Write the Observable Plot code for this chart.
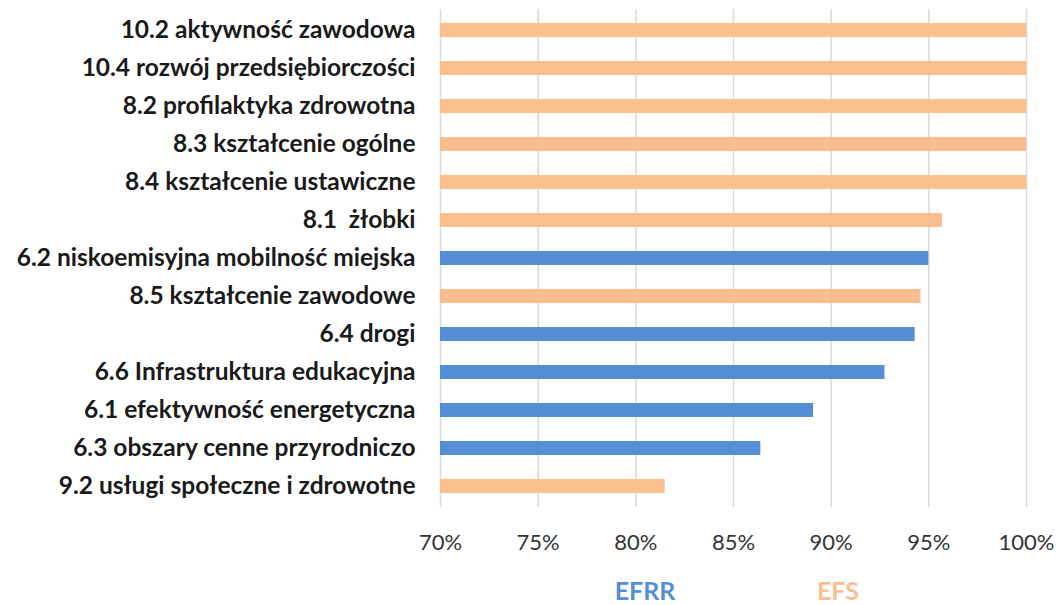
<!DOCTYPE html>
<html>
<head>
<meta charset="utf-8">
<script src="https://cdn.jsdelivr.net/npm/d3@7"></script>
<script src="https://cdn.jsdelivr.net/npm/@observablehq/plot@0.6"></script>
<style>
  html, body { margin: 0; padding: 0; background: #fff; }
  #wrap { position: relative; width: 1061px; height: 605px; overflow: hidden; }
  .leg { position: absolute; top: 578px; line-height: 1; font-family: Lato, "Open Sans", sans-serif; font-weight: bold; font-size: 25px; transform: translateX(-50%); }
  svg text { white-space: pre; }
</style>
</head>
<body>
<div id="wrap"></div>
<script>
const categories = [
  "10.2 aktywność zawodowa",
  "10.4 rozwój przedsiębiorczości",
  "8.2 profilaktyka zdrowotna",
  "8.3 kształcenie ogólne",
  "8.4 kształcenie ustawiczne",
  "8.1  żłobki",
  "6.2 niskoemisyjna mobilność miejska",
  "8.5 kształcenie zawodowe",
  "6.4 drogi",
  "6.6 Infrastruktura edukacyjna",
  "6.1 efektywność energetyczna",
  "6.3 obszary cenne przyrodniczo",
  "9.2 usługi społeczne i zdrowotne"
];
const values = [1.0, 1.0, 1.0, 1.0, 1.0, 0.957, 0.950, 0.946, 0.943, 0.9275, 0.891, 0.864, 0.815];
const funds = ["EFS","EFS","EFS","EFS","EFS","EFS","EFRR","EFS","EFRR","EFRR","EFRR","EFRR","EFS"];
const xTicks = [0.70, 0.75, 0.80, 0.85, 0.90, 0.95, 1.00];
const fundNames = ["EFRR", "EFS"];
const fundColors = ["#558ed5", "#f9bf8f"];

const data = categories.map((c, i) => ({category: c, value: values[i], fund: funds[i]}));

const chart = Plot.plot({
  width: 1061,
  height: 565,
  marginLeft: 440,
  marginRight: 35,
  marginTop: 9,
  marginBottom: 58,
  style: {fontFamily: "Lato, 'Open Sans', sans-serif", background: "#fff"},
  x: {domain: [0.70, 1.00], ticks: xTicks, tickFormat: d => Math.round(d * 100) + "%"},
  y: {domain: categories, paddingInner: 0.63, paddingOuter: 0.315, label: null},
  color: {domain: fundNames, range: fundColors},
  marks: [
    Plot.gridX(xTicks, {stroke: "#d9d9d9", strokeOpacity: 1, strokeWidth: 1.5}),
    Plot.barX(data, {y: "category", x1: 0.70, x2: "value", fill: "fund"}),
    Plot.axisX({ticks: xTicks, tickSize: 0, tickPadding: 27, fontSize: 22, fill: "#333", label: null,
      tickFormat: d => Math.round(d * 100) + "%"}),
    Plot.axisY({tickSize: 0, tickPadding: 25, fontSize: 24.5, fontWeight: "bold", fill: "#1a1a1a", label: null})
  ]
});

const wrap = document.getElementById("wrap");
wrap.appendChild(chart);
const legX = [645, 838];
fundNames.forEach((n, i) => {
  const s = document.createElement("span");
  s.className = "leg";
  s.textContent = n;
  s.style.color = fundColors[i];
  s.style.left = legX[i] + "px";
  wrap.appendChild(s);
});
</script>
</body>
</html>
